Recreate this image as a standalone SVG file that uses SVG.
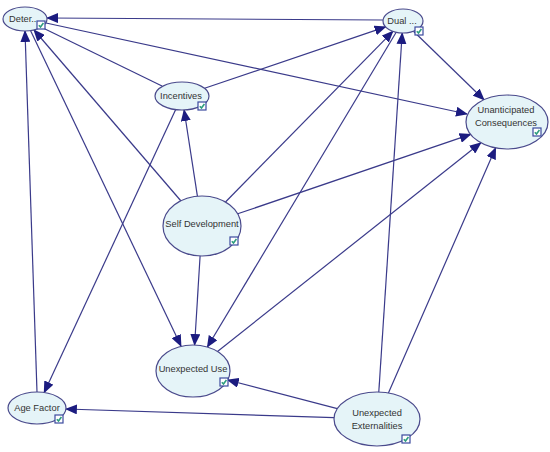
<svg xmlns="http://www.w3.org/2000/svg" width="550" height="452" viewBox="0 0 550 452">
<style>
.node ellipse{fill:#e5f4f8;stroke:#4a4a8c;stroke-width:1.2}
.node text{font-family:"Liberation Sans",Arial,sans-serif;font-size:9.3px;fill:#333;text-anchor:middle}
.cb{fill:#fff;stroke:#3b4a9e;stroke-width:1.2}
.ck{fill:none;stroke:#2e9e7e;stroke-width:1.6}
#edges line{stroke:#3a3a8a;stroke-width:1.2}
.a{marker-end:url(#arr)}
</style>
<defs>
<marker id="arr" markerUnits="userSpaceOnUse" markerWidth="12" markerHeight="10" viewBox="0 0 12 10" refX="11" refY="5" orient="auto">
<path d="M0,0 L12,5 L0,10 z" fill="#1c1c80"/>
</marker>
<g id="check"><rect class="cb" x="0" y="0" width="8" height="8"/><path class="ck" d="M1.8,4.2 L3.5,6 L6.4,2"/></g>
</defs>
<rect width="550" height="452" fill="#fff"/>
<g id="edges">
<line class="a" x1="383" y1="20" x2="47" y2="18"/>
<line class="a" x1="46" y1="23" x2="467" y2="114"/>
<line x1="162" y1="86" x2="43" y2="28"/>
<line class="a" x1="181" y1="201" x2="34" y2="30"/>
<line class="a" x1="30.5" y1="30.6" x2="181" y2="346"/>
<line class="a" x1="37" y1="392" x2="25" y2="31"/>
<line class="a" x1="175.7" y1="109.6" x2="44.2" y2="392.5"/>
<line class="a" x1="197.4" y1="196.2" x2="184.1" y2="110"/>
<line class="a" x1="204.6" y1="88.3" x2="385.6" y2="26.9"/>
<line class="a" x1="225.5" y1="202" x2="392.9" y2="31.3"/>
<line class="a" x1="237.7" y1="213.8" x2="470.6" y2="134.4"/>
<line class="a" x1="200.1" y1="256" x2="194.6" y2="345"/>
<line class="a" x1="396.2" y1="32.3" x2="207.4" y2="347"/>
<line class="a" x1="413.5" y1="31.2" x2="484" y2="99.7"/>
<line class="a" x1="217.5" y1="351.5" x2="480.8" y2="142.8"/>
<line class="a" x1="388.4" y1="393" x2="495.6" y2="148"/>
<line class="a" x1="378.8" y1="392" x2="402.2" y2="33"/>
<line class="a" x1="334" y1="417.6" x2="65.9" y2="409"/>
<line class="a" x1="337.3" y1="408.6" x2="227.7" y2="380"/>
</g>
<g id="deter" class="node"><ellipse cx="25" cy="19" rx="22" ry="12"/><text x="24" y="22">Deter...</text><use href="#check" x="37" y="21"/></g>
<g id="dual" class="node"><ellipse cx="403" cy="21" rx="20" ry="12"/><text x="402" y="24">Dual ...</text><use href="#check" x="415" y="27"/></g>
<g id="incentives" class="node"><ellipse cx="182" cy="96" rx="27" ry="14"/><text x="181" y="99">Incentives</text><use href="#check" x="198" y="102"/></g>
<g id="unanticipated" class="node"><ellipse cx="507" cy="122" rx="41" ry="27"/><text x="506" y="113">Unanticipated</text><text x="506" y="126">Consequences</text><use href="#check" x="533" y="128"/></g>
<g id="selfdev" class="node"><ellipse cx="202" cy="226" rx="39" ry="30"/><text x="202" y="227">Self Development</text><use href="#check" x="230" y="237"/></g>
<g id="unexpuse" class="node"><ellipse cx="193" cy="371" rx="37" ry="26"/><text x="193" y="372">Unexpected Use</text><use href="#check" x="220" y="378"/></g>
<g id="agefactor" class="node"><ellipse cx="37" cy="408" rx="29" ry="16"/><text x="37" y="411">Age Factor</text><use href="#check" x="55" y="415"/></g>
<g id="externalities" class="node"><ellipse cx="377" cy="419" rx="43" ry="27"/><text x="377" y="416">Unexpected</text><text x="377" y="429">Externalities</text><use href="#check" x="402" y="435"/></g>
</svg>
